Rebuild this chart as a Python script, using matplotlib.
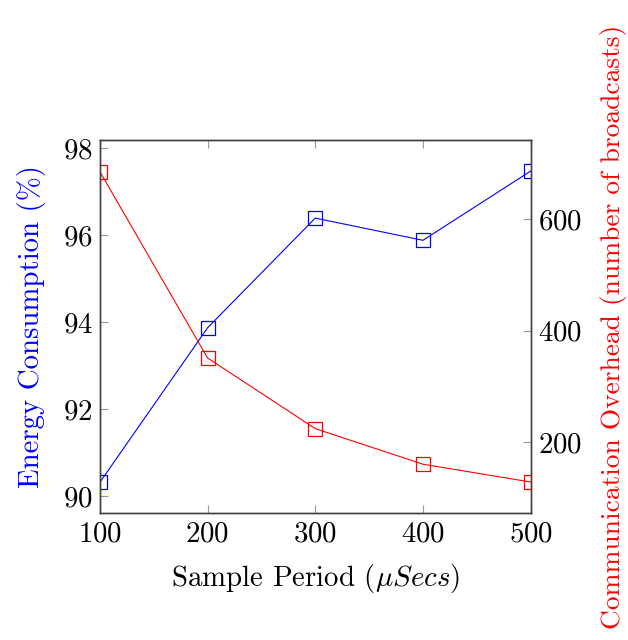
import matplotlib
matplotlib.use("Agg")
import matplotlib.pyplot as plt

plt.rcParams["font.family"] = ["cmr10", "DejaVu Sans"]
plt.rcParams["mathtext.fontset"] = "cm"
plt.rcParams["axes.formatter.use_mathtext"] = True

sample_period = [100, 200, 300, 400, 500]
energy = [90.32, 93.87, 96.39, 95.88, 97.47]
overhead = [686, 351, 224, 160, 128]

x_ticks = [100, 200, 300, 400, 500]
energy_ticks = [90, 92, 94, 96, 98]
overhead_ticks = [200, 400, 600]

fig = plt.figure(figsize=(6.28, 6.4), dpi=100)
ax = fig.add_axes([0.159, 0.198, 0.686, 0.583])
ax2 = ax.twinx()

ax.plot(sample_period, energy, color="blue", lw=0.8, marker="s", ms=9.5,
        mfc="none", mew=0.9)
ax2.plot(sample_period, overhead, color="red", lw=0.8, marker="s", ms=9.5,
         mfc="none", mew=0.9)

fs = 20.8
ax.set_xlim(100, 500)
ax.set_ylim(89.61, 98.18)
ax2.set_ylim(71.8, 742.6)
ax.set_xticks(x_ticks)
ax.set_yticks(energy_ticks)
ax2.set_yticks(overhead_ticks)

ax.tick_params(axis="x", direction="in", top=True, bottom=True, length=6,
               color="#999999", labelsize=fs, pad=6)
ax.tick_params(axis="y", direction="in", left=True, right=False, length=6,
               color="#999999", labelsize=fs, pad=5)
ax2.tick_params(axis="y", direction="in", right=True, left=False, length=6,
                color="#999999", labelsize=fs, pad=5)

for a in (ax, ax2):
    for s in a.spines.values():
        s.set_color("#404040")
        s.set_linewidth(1.0)

ax.set_xlabel(r"Sample Period ($\mu Secs$)", fontsize=fs, labelpad=10)
ax.set_ylabel("Energy Consumption (%)", fontsize=fs, color="blue", labelpad=12)
ax2.set_ylabel("Communication Overhead (number of broadcasts)", fontsize=19.8,
               color="red", labelpad=13)

fig.savefig("out.png", dpi=100)
